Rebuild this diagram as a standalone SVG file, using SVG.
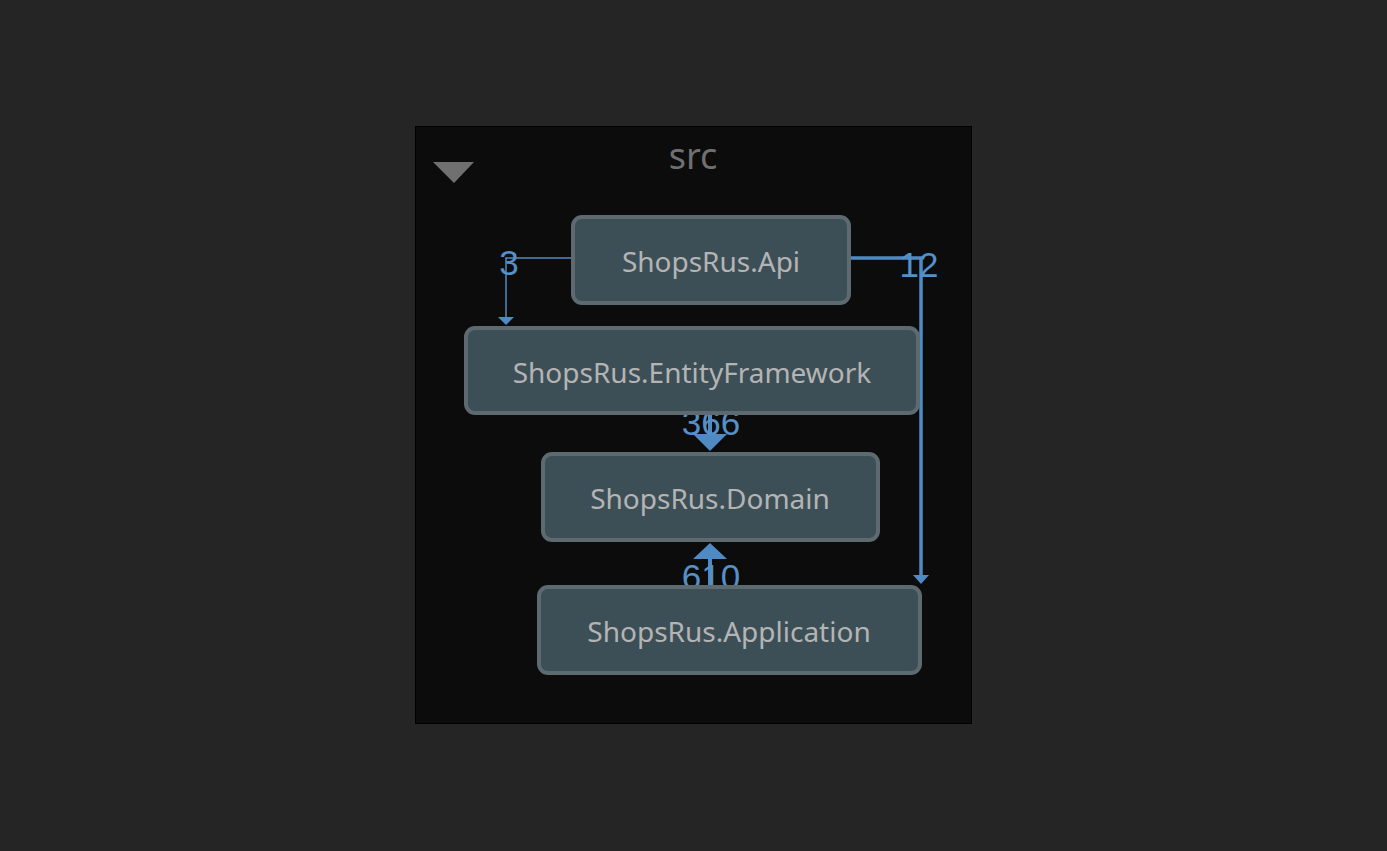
<svg xmlns="http://www.w3.org/2000/svg" width="1387" height="851" viewBox="0 0 1387 851">
<style>
.node rect{fill:#3d4f56;stroke:#5d6b70;stroke-width:4}
.node text{font-family:"Noto Sans","Open Sans",sans-serif;font-size:28px;fill:#b4b4b4;text-anchor:middle}
.lbl{font-family:"Liberation Sans",Arial,sans-serif;font-size:35px;fill:#5590c8;text-anchor:middle}
.edge{fill:none;stroke:#4f8ac2}
.head{fill:#4f8ac2}
</style>
<rect width="1387" height="851" fill="#252525"/>
<g id="container">
<rect x="415.5" y="126.5" width="556" height="597" fill="#0c0c0c" stroke="#000" stroke-width="1"/>
<polygon points="433,162 474,162 454,183" fill="#707070"/>
<text x="693" y="169" font-family="Noto Sans,Open Sans,sans-serif" font-size="36" fill="#707070" text-anchor="middle">src</text>
</g>
<g id="connectors">
<g id="e-api-ef">
<polyline class="edge" stroke-width="1.5" points="573,258 506,258 506,317"/>
<polygon class="head" points="498,317 514,317 506,325"/>
<text class="lbl" x="509" y="275">3</text>
</g>
<g id="e-api-app">
<polyline class="edge" stroke-width="3.5" points="849,258 921,258 921,576"/>
<polygon class="head" points="913,575 929,575 921,584"/>
<text class="lbl" x="919" y="277">12</text>
</g>
<g id="e-ef-domain">
<line class="edge" stroke-width="4" x1="710" y1="413" x2="710" y2="435"/>
<polygon class="head" points="693,434 727,434 710,451"/>
<text class="lbl" x="711" y="435">366</text>
</g>
<g id="e-app-domain">
<line class="edge" stroke-width="4" x1="710" y1="588" x2="710" y2="558"/>
<polygon class="head" points="693,559 727,559 710,543"/>
<text class="lbl" x="711" y="589">610</text>
</g>
</g>
<g id="n-api" class="node">
<rect x="573" y="217" width="276" height="86" rx="9"/>
<text x="711" y="272">ShopsRus.Api</text>
</g>
<g id="n-ef" class="node">
<rect x="466" y="328" width="452" height="85" rx="9"/>
<text x="692" y="383">ShopsRus.EntityFramework</text>
</g>
<g id="n-domain" class="node">
<rect x="543" y="454" width="335" height="86" rx="9"/>
<text x="710" y="509">ShopsRus.Domain</text>
</g>
<g id="n-app" class="node">
<rect x="539" y="587" width="381" height="86" rx="9"/>
<text x="729" y="642">ShopsRus.Application</text>
</g>
</svg>
